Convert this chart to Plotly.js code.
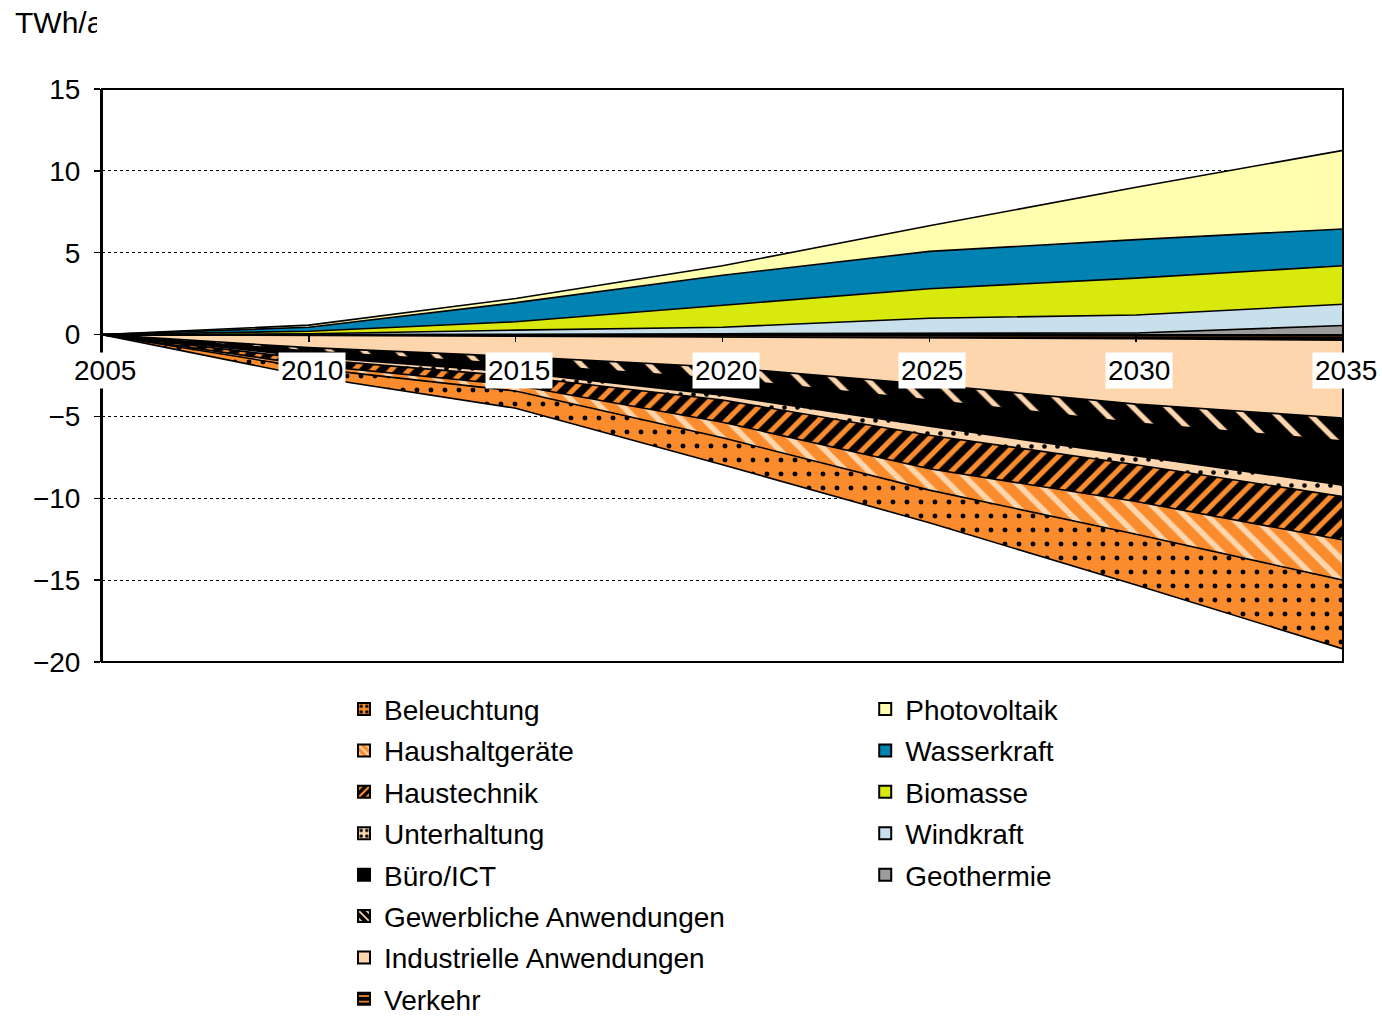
<!DOCTYPE html>
<html>
<head>
<meta charset="utf-8">
<script src="https://cdn.plot.ly/plotly-3.0.1.min.js"></script>
<style>
  html, body { margin: 0; padding: 0; background: #ffffff; }
  #chart { width: 1382px; height: 1022px; }
</style>
</head>
<body>
<div id="chart"></div>
<script>
// Years on the horizontal axis
const years = [2005, 2010, 2015, 2020, 2025, 2030, 2035];
const tickYears = [2005, 2010, 2015, 2020, 2025, 2030, 2035];
const tickLabels = ['2005', '2010', '2015', '2020', '2025', '2030', '2035'];

// Additional production (TWh/a), stacked upwards from zero
const geothermie   = [0, 0.00, 0.02, 0.05, 0.08, 0.10, 0.55];
const windkraft    = [0, 0.05, 0.25, 0.40, 0.92, 1.10, 1.30];
const biomasse     = [0, 0.15, 0.51, 1.35, 1.80, 2.25, 2.35];
const wasserkraft  = [0, 0.25, 1.17, 1.82, 2.28, 2.35, 2.25];
const photovoltaik = [0, 0.13, 0.25, 0.58, 1.57, 3.20, 4.80];

// Savings in consumption (TWh/a), stacked downwards from zero
const verkehr         = [0, -0.05, -0.10, -0.15, -0.20, -0.25, -0.35];
const industrielle    = [0, -0.75, -1.25, -1.85, -2.85, -4.00, -4.75];
const gewerbliche     = [0, -0.20, -0.45, -0.70, -0.95, -1.15, -1.40];
const bueroIct        = [0, -0.35, -0.50, -1.00, -1.60, -2.00, -2.70];
const unterhaltung    = [0, -0.15, -0.25, -0.30, -0.55, -0.55, -0.70];
const haustechnik     = [0, -0.35, -0.55, -1.35, -2.05, -2.25, -2.65];
const haushaltgeraete = [0, -0.20, -0.35, -0.95, -1.30, -2.00, -2.45];
const beleuchtung     = [0, -0.50, -1.05, -1.65, -2.00, -3.10, -4.20];

// Colours
const ORANGE = '#FB8C2E';
const PEACH  = '#FDD6AE';
const BLACK  = '#000000';

// Fill styles per series (pattern shape, background, foreground, cell size, solidity)
const styles = {
  'Beleuchtung':              { bg: ORANGE, fg: BLACK,  shape: '.',  size: 14, solidity: 0.1 },
  'Haushaltgeräte':           { bg: ORANGE, fg: PEACH,  shape: '\\', size: 16, solidity: 0.35 },
  'Haustechnik':              { bg: BLACK,  fg: ORANGE, shape: '/',  size: 13, solidity: 0.4 },
  'Unterhaltung':             { bg: PEACH,  fg: BLACK,  shape: '.',  size: 13, solidity: 0.1 },
  'Büro/ICT':                 { bg: BLACK,  fg: null,   shape: '',   size: 0,  solidity: 0 },
  'Gewerbliche Anwendungen':  { bg: BLACK,  fg: PEACH,  shape: '\\', size: 24, solidity: 0.22 },
  'Industrielle Anwendungen': { bg: PEACH,  fg: null,   shape: '',   size: 0,  solidity: 0 },
  'Verkehr':                  { bg: BLACK,  fg: ORANGE, shape: '-',  size: 12, solidity: 0.2 },
  'Photovoltaik':             { bg: '#FFFDAE', fg: null, shape: '', size: 0, solidity: 0 },
  'Wasserkraft':              { bg: '#0083B2', fg: null, shape: '', size: 0, solidity: 0 },
  'Biomasse':                 { bg: '#D9E90D', fg: null, shape: '', size: 0, solidity: 0 },
  'Windkraft':                { bg: '#C8E0EB', fg: null, shape: '', size: 0, solidity: 0 },
  'Geothermie':               { bg: '#9C9C9C', fg: null, shape: '', size: 0, solidity: 0 }
};

// Stacking order away from the zero line
const negSeries = [
  ['Verkehr', verkehr],
  ['Industrielle Anwendungen', industrielle],
  ['Gewerbliche Anwendungen', gewerbliche],
  ['Büro/ICT', bueroIct],
  ['Unterhaltung', unterhaltung],
  ['Haustechnik', haustechnik],
  ['Haushaltgeräte', haushaltgeraete],
  ['Beleuchtung', beleuchtung]
];
const posSeries = [
  ['Geothermie', geothermie],
  ['Windkraft', windkraft],
  ['Biomasse', biomasse],
  ['Wasserkraft', wasserkraft],
  ['Photovoltaik', photovoltaik]
];

// Legend order
const legendLeft  = ['Beleuchtung', 'Haushaltgeräte', 'Haustechnik', 'Unterhaltung', 'Büro/ICT',
                     'Gewerbliche Anwendungen', 'Industrielle Anwendungen', 'Verkehr'];
const legendRight = ['Photovoltaik', 'Wasserkraft', 'Biomasse', 'Windkraft', 'Geothermie'];

function areaTrace(name, values, group) {
  const s = styles[name];
  const t = {
    type: 'scatter',
    mode: 'lines',
    name: name,
    x: years,
    y: values,
    stackgroup: group,
    line: { color: BLACK, width: 1.6, shape: 'linear' },
    fillcolor: s.bg,
    showlegend: false,
    hoverinfo: 'name+y'
  };
  if (s.shape) {
    t.fillpattern = { shape: s.shape, bgcolor: s.bg, fgcolor: s.fg, size: s.size, solidity: s.solidity, fillmode: 'replace' };
  }
  return t;
}

// Square legend keys: bar traces without drawable values, sharing each area's fill style
function legendEntry(name, legendId) {
  const s = styles[name];
  const marker = { color: s.bg, line: { color: BLACK, width: 2 } };
  if (s.shape) {
    marker.pattern = { shape: s.shape, bgcolor: s.bg, fgcolor: s.fg, size: 7, solidity: Math.max(s.solidity, 0.3), fillmode: 'replace' };
  }
  return {
    type: 'bar', name: name, x: years, y: years.map(() => null),
    marker: marker, legend: legendId, legendgroup: name, showlegend: true, hoverinfo: 'skip'
  };
}

const traces = [];
negSeries.forEach(([n, v]) => traces.push(areaTrace(n, v, 'neg')));
posSeries.forEach(([n, v]) => traces.push(areaTrace(n, v, 'pos')));
legendLeft.forEach(n => traces.push(legendEntry(n, 'legend')));
legendRight.forEach(n => traces.push(legendEntry(n, 'legend2')));

const FONT = 'Liberation Sans, Arial, sans-serif';
const yMin = -20, yMax = 15;

// Year labels sit just under the zero line on white boxes
const yearAnnotations = tickYears.map((yr, i) => ({
  x: yr, y: -2.2, xref: 'x', yref: 'y',
  text: tickLabels[i], showarrow: false,
  font: { family: FONT, size: 28, color: BLACK },
  bgcolor: '#ffffff', borderpad: 2, xshift: 3,
  xanchor: 'center', yanchor: 'middle'
}));

const legendCommon = {
  orientation: 'v',
  font: { family: FONT, size: 28, color: BLACK },
  bgcolor: 'rgba(0,0,0,0)',
  borderwidth: 0,
  traceorder: 'grouped',
  tracegroupgap: 2,
  itemclick: false, itemdoubleclick: false,
  xanchor: 'left', yanchor: 'top'
};

const layout = {
  width: 1382, height: 1022,
  margin: { l: 102, r: 39, t: 89, b: 360, autoexpand: false },
  paper_bgcolor: '#ffffff', plot_bgcolor: '#ffffff',
  font: { family: FONT, size: 28, color: BLACK },
  showlegend: true,
  legend: Object.assign({}, legendCommon, { x: 0.195, y: -0.039 }),
  legend2: Object.assign({}, legendCommon, { x: 0.615, y: -0.039 }),
  xaxis: {
    range: [2005, 2035],
    anchor: 'free',
    position: (0 - yMin) / (yMax - yMin),
    tickvals: tickYears,
    showticklabels: false,
    ticks: 'outside', ticklen: 6, tickwidth: 1.5, tickcolor: BLACK,
    showline: true, linecolor: BLACK, linewidth: 2,
    showgrid: false, zeroline: false, fixedrange: true
  },
  yaxis: {
    range: [yMin, yMax],
    dtick: 5, tick0: 0,
    ticks: 'outside', ticklen: 6, tickwidth: 1.5, tickcolor: BLACK,
    ticklabelstandoff: 8,
    showline: true, linecolor: BLACK, linewidth: 2,
    showgrid: true, gridcolor: BLACK, gridwidth: 1.2, griddash: 'dot',
    zeroline: true, zerolinecolor: BLACK, zerolinewidth: 2,
    tickfont: { family: FONT, size: 28, color: BLACK },
    fixedrange: true
  },
  shapes: [
    { type: 'rect', xref: 'paper', yref: 'paper', x0: 0, x1: 1, y0: 0, y1: 1,
      line: { color: BLACK, width: 2 }, fillcolor: 'rgba(0,0,0,0)', layer: 'above' }
  ],
  annotations: yearAnnotations.concat([
    { xref: 'paper', yref: 'paper', x: -89 / 1241, y: 1 + 67 / 573,
      xanchor: 'left', yanchor: 'middle', align: 'left',
      text: 'TWh/a', width: 82, showarrow: false,
      font: { family: FONT, size: 30, color: BLACK } }
  ])
};

Plotly.newPlot('chart', traces, layout, { displayModeBar: false, staticPlot: true });
</script>
</body>
</html>
